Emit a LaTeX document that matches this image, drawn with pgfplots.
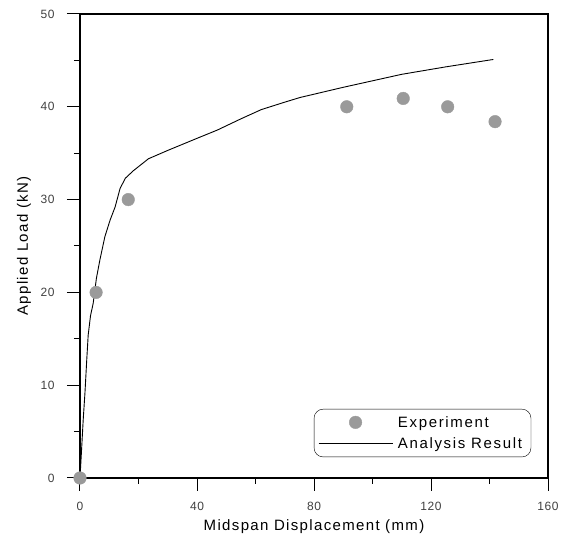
\documentclass[border=0pt]{standalone}
\usepackage{fontspec}
\setmainfont{Liberation Sans}
\usepackage{pgfplots}
\pgfplotsset{compat=1.18}
\definecolor{expgray}{HTML}{9A9A9A}
\pgfplotsset{
    markleg/.style={legend image code/.code={\draw[##1] plot coordinates {(1.3cm,0cm)};}},
    lineleg/.style={legend image code/.code={\draw[##1] (0cm,0cm) -- (2.6cm,0cm);}},
}
\newcommand{\labfont}{\fontsize{15}{18}\selectfont\addfontfeature{LetterSpace=9}}
\begin{document}
\begin{tikzpicture}
\begin{axis}[
    scale only axis,
    width=468pt, height=464pt,
    xmin=0, xmax=160, ymin=0, ymax=50,
    clip=false,
    xtick={0,40,80,120,160}, ytick={0,10,20,30,40,50},
    xticklabels={0,40,80,120,160}, yticklabels={0,10,20,30,40,50},
    minor xtick={20,60,100,140}, minor ytick={5,15,25,35,45},
    tick align=outside,
    xtick pos=left, ytick pos=left,
    major tick length=13pt, minor tick length=6pt,
    axis line style={line width=1.1pt},
    tick style={draw=black, line width=1pt},
    tick label style={font=\fontsize{12}{14}\selectfont\addfontfeature{LetterSpace=5}, text=black!75},
    yticklabel style={xshift=-9pt},
    xticklabel style={yshift=-8pt},
    xlabel={Midspan Displacement (mm)},
    ylabel={Applied Load (kN)},
    label style={font=\labfont},
    xlabel style={at={(axis description cs:0.5,0)}, anchor=center, yshift=-49pt},
    ylabel style={at={(axis description cs:-0.1197,0.5)}, anchor=center},
    legend style={at={(0.964,0.045)}, anchor=south east, draw=black,
        rounded corners=9pt, font=\fontsize{15}{18}\selectfont\addfontfeature{LetterSpace=11},
        inner xsep=4pt, inner ysep=5pt, row sep=5pt,
        nodes={inner xsep=5pt}},
    legend cell align=left,
]
\addplot[only marks, mark=*, mark size=6.3pt, color=expgray, markleg]
    coordinates {(0,0) (5.5,20) (16.5,30) (91.2,40) (110.5,40.9) (125.7,40) (141.9,38.4)};
\addlegendentry{Experiment}
\addplot[black, line width=0.9pt, lineleg]
    coordinates {(0,0) (0.6,3.4) (1.1,6.3) (1.7,9.2) (2.3,12.7) (2.8,15.4) (3.6,17.5)
    (4.5,18.8) (5.6,21.5) (6.8,23.5) (8.5,26) (10.3,27.8) (12,29.2) (13.7,31.2)
    (15.5,32.3) (18.2,33.1) (21,33.8) (23.4,34.4) (30,35.3) (40,36.6) (47,37.5)
    (55,38.7) (62,39.7) (70,40.5) (75.2,41.0) (90,42.1) (100,42.8) (110,43.5)
    (125,44.3) (141.3,45.1)};
\addlegendentry{Analysis Result}
% long ticks at the labelled positions (the major ticks did not show)
\pgfplotsinvokeforeach{0,40,80,120,160}{
    \draw[black, line width=1pt] (axis cs:#1,0) -- ++(0,-13pt);
}
\pgfplotsinvokeforeach{0,10,20,30,40,50}{
    \draw[black, line width=1pt] (axis cs:0,#1) -- ++(-13pt,0);
}
\end{axis}
\path ([xshift=-80pt,yshift=-57pt]current axis.south west) rectangle ([xshift=18pt,yshift=14pt]current axis.north east);
\end{tikzpicture}
\end{document}
